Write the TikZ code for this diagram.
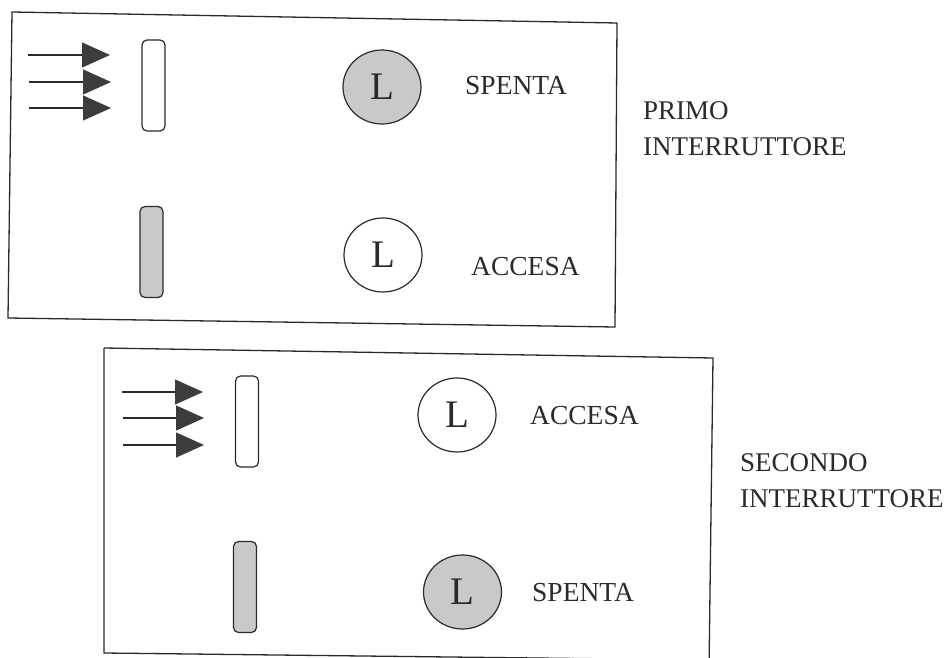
\documentclass[tikz,border=0pt]{standalone}
\usepackage{fontspec}
\setmainfont{Liberation Serif}
\usetikzlibrary{arrows.meta,shapes.geometric}

\definecolor{ink}{HTML}{2A2A2A}
\definecolor{shade}{HTML}{C9C9C9}
\definecolor{headfill}{HTML}{3C3C3C}

\tikzset{
  frame/.style={draw=ink, line width=1.3pt},
  ray/.style={draw=ink, line width=1.2pt,
    -{Triangle[length=28pt,width=25pt,fill=headfill,color=headfill]}},
  slab/.style={rectangle, rounded corners=5pt, draw=ink, line width=1.2pt,
    minimum width=23pt, minimum height=91pt, inner sep=0pt},
  openslab/.style={slab, fill=white},
  darkslab/.style={slab, fill=shade},
  lamp/.style={ellipse, draw=ink, line width=1.2pt, minimum width=78pt,
    minimum height=74pt, inner sep=0pt, text=ink,
    font=\fontsize{39}{39}\selectfont},
  lampoff/.style={lamp, fill=shade},
  lampon/.style={lamp, fill=white},
  state/.style={anchor=west, inner sep=0pt, text depth=0pt, text=ink,
    font=\fontsize{27.5}{30}\selectfont},
  caption/.style={anchor=north west, inner sep=0pt, text=ink, align=left,
    font=\fontsize{27}{36}\selectfont}
}

\begin{document}
\begin{tikzpicture}[x=1pt, y=-1pt]
  \useasboundingbox (0,0) rectangle (945,658);
  \begin{scope}
    \clip (0,0) rectangle (945,658);

    % first panel
    \draw[frame] (12,12) -- (617,23) -- (615,327) -- (8,318) -- cycle;
    \coordinate (p1a) at (28,55);  \coordinate (p1at) at (110,55);
    \coordinate (p1b) at (29,82);  \coordinate (p1bt) at (111,82);
    \coordinate (p1c) at (29,108); \coordinate (p1ct) at (111,108);
    \draw[ray] (p1a) -- (p1at);
    \draw[ray] (p1b) -- (p1bt);
    \draw[ray] (p1c) -- (p1ct);
    \node[openslab] (s1top) at (153.5,85.5) {};
    \node[darkslab] (s1bot) at (151.5,252) {};
    \node[lampoff] (l1top) at (382,87) {L};
    \node[lampon]  (l1bot) at (383,255) {L};
    \node[state] (t1top) at (465,85) {SPENTA};
    \node[state] (t1bot) at (471,266) {ACCESA};
    \node[caption] (c1) at (643,101) {PRIMO\\INTERRUTTORE};

    % second panel
    \draw[frame] (104,348) -- (713,358) -- (709,670) (104,348) -- (104,653) -- (709,660);
    \coordinate (p2a) at (122,392); \coordinate (p2at) at (203,392);
    \coordinate (p2b) at (123,418); \coordinate (p2bt) at (204,418);
    \coordinate (p2c) at (123,445); \coordinate (p2ct) at (204,445);
    \draw[ray] (p2a) -- (p2at);
    \draw[ray] (p2b) -- (p2bt);
    \draw[ray] (p2c) -- (p2ct);
    \node[openslab] (s2top) at (247,421.5) {};
    \node[darkslab] (s2bot) at (245,587) {};
    \node[lampon]  (l2top) at (457,415) {L};
    \node[lampoff] (l2bot) at (462.5,592) {L};
    \node[state] (t2top) at (530,415) {ACCESA};
    \node[state] (t2bot) at (532,592) {SPENTA};
    \node[caption] (c2) at (740,453) {SECONDO\\INTERRUTTORE};
  \end{scope}
\end{tikzpicture}
\end{document}
